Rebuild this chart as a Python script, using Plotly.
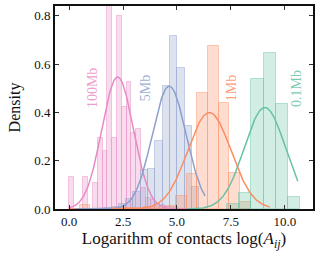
import numpy as np
import plotly.graph_objects as go

# ---------------- data ----------------
labels = ["100Mb", "5Mb", "1Mb", "0.1Mb"]
colors = ["#e78ac3", "#8da0cb", "#fc8d62", "#66c2a5"]

# histogram bins: start, width, density heights
hist_start = [0.0, 1.63, 0.0, 7.31]
hist_width = [0.222, 0.338, 0.495, 0.567]
hist_100mb = [0.134, 0, 0, 0.134, 0, 0.107, 0.293, 0.238, 0.85, 0.293, 0.80,
              0.423, 0.526, 0.316, 0.33, 0.087, 0.045, 0.037, 0.02, 0.015,
              0.01, 0.008, 0.005]
hist_5mb = [0.005, 0.01, 0.02, 0.04, 0.07, 0.162, 0.166, 0.283, 0.508, 0.716,
            0.584, 0.343, 0.091]
hist_1mb = [0.0, 0.017, 0.0, 0.0, 0.003, 0.005, 0.006, 0.008, 0.01, 0.014,
            0.052, 0.146, 0.481, 0.673, 0.44, 0.151, 0.027]
hist_01mb = [0.02, 0.067, 0.537, 0.646, 0.434, 0.048]
hists = [hist_100mb, hist_5mb, hist_1mb, hist_01mb]

# fitted normal curves: mean, std, plotted range
fit_mean = [2.25, 4.64, 6.5, 9.07]
fit_std = [0.73, 0.785, 1.0, 0.95]
fit_lo = [0.0, 0.3, 2.0, 5.5]
fit_hi = [5.5, 6.3, 9.3, 10.6]

# label positions (data coords)
label_x = [1.06, 3.52, 7.5, 10.5]
label_y = [0.50, 0.50, 0.50, 0.50]


def rgba(hx, a):
    hx = hx.lstrip("#")
    r, g, b = int(hx[0:2], 16), int(hx[2:4], 16), int(hx[4:6], 16)
    return f"rgba({r},{g},{b},{a})"


serif = "Liberation Serif, Times New Roman, serif"

fig = go.Figure()

for i in range(4):
    h = np.array(hists[i], dtype=float)
    centers = hist_start[i] + hist_width[i] * (np.arange(len(h)) + 0.5)
    fig.add_trace(go.Bar(
        x=centers, y=h, width=hist_width[i],
        marker=dict(color=rgba(colors[i], 0.3),
                    line=dict(color=rgba(colors[i], 0.45), width=1)),
        showlegend=False, hoverinfo="skip"))

for i in range(4):
    xs = np.linspace(fit_lo[i], fit_hi[i], 200)
    ys = np.exp(-0.5 * ((xs - fit_mean[i]) / fit_std[i]) ** 2) / (fit_std[i] * np.sqrt(2 * np.pi))
    fig.add_trace(go.Scatter(x=xs, y=ys, mode="lines",
                             line=dict(color=colors[i], width=1.5),
                             showlegend=False, hoverinfo="skip"))

for i in range(4):
    fig.add_annotation(x=label_x[i], y=label_y[i], text=labels[i],
                       showarrow=False, textangle=-90,
                       font=dict(family=serif, size=14, color=rgba(colors[i], 0.85)))

axis_common = dict(showline=True, linecolor="#111", linewidth=1.6, mirror="allticks",
                   ticks="inside", ticklen=4, tickwidth=1, tickcolor="#333",
                   showgrid=False, zeroline=False, automargin=False,
                   tickfont=dict(family=serif, size=13, color="#111"))

fig.update_layout(
    width=319, height=258,
    margin=dict(l=55, r=6, t=6, b=49),
    plot_bgcolor="white", paper_bgcolor="white",
    font=dict(family=serif, color="#111"),
    barmode="overlay", bargap=0,
    xaxis=dict(range=[-0.65, 11.3], tickvals=[0, 2.5, 5, 7.5, 10],
               ticktext=["0.0", "2.5", "5.0", "7.5", "10.0"],
               title=dict(text="Logarithm of contacts log(<i>A<sub>ij</sub></i>)",
                          font=dict(family=serif, size=17, color="#111"), standoff=3),
               **axis_common),
    yaxis=dict(range=[0, 0.84], tickvals=[0, 0.2, 0.4, 0.6, 0.8],
               ticktext=["0.0", "0.2", "0.4", "0.6", "0.8"],
               title=dict(text="Density", font=dict(family=serif, size=16, color="#111"),
                          standoff=10),
               **axis_common),
)

fig.write_html("out.html", config={"displayModeBar": False},
               post_script="document.body.style.margin='0';document.body.style.overflow='hidden';")
